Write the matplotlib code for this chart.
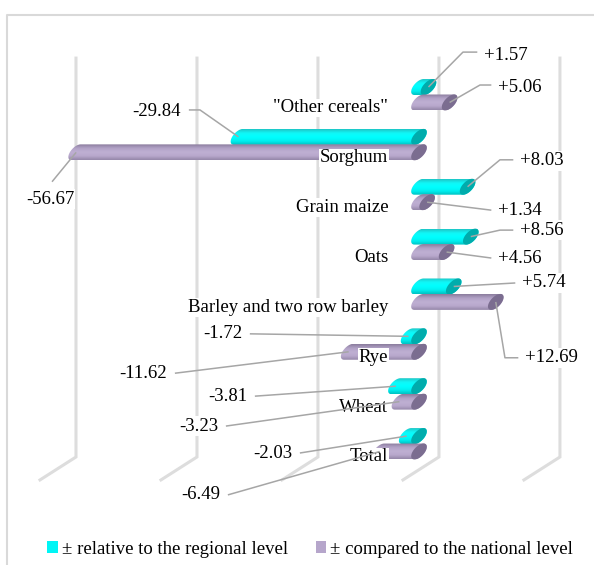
import numpy as np
import matplotlib.pyplot as plt
from matplotlib.colors import LinearSegmentedColormap
from matplotlib.lines import Line2D
from matplotlib.patches import Patch, Polygon

plt.rcParams["font.family"] = ["Liberation Serif", "DejaVu Serif"]

CATEGORIES = ['"Other cereals"', "Sorghum", "Grain maize", "Oats",
              "Barley and two row barley", "Rye", "Wheat", "Total"]
REGIONAL = [1.57, -29.84, 8.03, 8.56, 5.74, -1.72, -3.81, -2.03]
NATIONAL = [5.06, -56.67, 1.34, 4.56, 12.69, -11.62, -3.23, -6.49]
GRID_TICKS = [-60, -40, -20, 0, 20]
SERIES_NAMES = ["\u00b1 relative to the regional level",
                "\u00b1 compared to the national level"]

# label placement: (text x, text y, ha, elbow or None)
REG_LABEL_POS = [
    (10.74, -0.79, "left", (7.27, -0.85)),
    (-39.34, 0.35, "right", (-36.2, 0.31)),
    (16.69, 1.33, "left", (13.39, 1.31)),
    (16.69, 2.72, "left", (13.39, 2.72)),
    (17.02, 3.78, "left", None),
    (-29.26, 4.80, "right", None),
    (-28.43, 6.05, "right", None),
    (-20.99, 7.19, "right", None),
]
NAT_LABEL_POS = [
    (13.06, -0.15, "left", (10.08, -0.19)),
    (-60.99, 2.10, "center", (-60.66, 1.75)),
    (13.06, 2.32, "left", None),
    (13.06, 3.28, "left", None),
    (17.52, 5.28, "left", (14.21, 5.28)),
    (-41.65, 5.59, "right", None),
    (-33.22, 6.65, "right", None),
    (-32.89, 8.03, "right", None),
]

CYAN = "#00f5f5"
LILAC = "#b6a6cb"
cyan_cmap = LinearSegmentedColormap.from_list(
    "cyl_cyan", ["#1ec4c4", "#10f8f8", "#00ffff", "#00f0f0", "#00c0c0"])
lilac_cmap = LinearSegmentedColormap.from_list(
    "cyl_lilac", ["#8a7c9c", "#b1a1c6", "#bfb0d3", "#b8a8cc", "#9486a8"])

FS = 13.5
RX, SX, R = 1.05, 0.75, 0.16    # cap half-width, cap slant, tube radius
DEPTH_X = 3.3                   # back wall shift (value units)
REG_OFF, NAT_OFF = -0.15, 0.16


def cylinder(ax, v, yc, cmap, cap_color, z):
    x0, x1 = min(0.0, v), max(0.0, v)
    t_r = np.linspace(-np.pi / 2, np.pi / 2, 40)
    t_l = np.linspace(np.pi / 2, 3 * np.pi / 2, 40)
    xs = np.concatenate([x1 + RX * np.cos(t_r) - SX * np.sin(t_r),
                         x0 + RX * np.cos(t_l) - SX * np.sin(t_l)])
    ys = np.concatenate([yc + R * np.sin(t_r), yc + R * np.sin(t_l)])
    body = Polygon(np.column_stack([xs, ys]), closed=True, fc="none",
                   ec="none", zorder=z)
    ax.add_patch(body)
    grad = np.linspace(0, 1, 64).reshape(-1, 1)
    im = ax.imshow(grad, cmap=cmap, aspect="auto", origin="upper",
                   interpolation="bicubic", zorder=z,
                   extent=(x0 - RX - SX, x1 + RX + SX, yc + R, yc - R))
    im.set_clip_path(body)
    t = np.linspace(0, 2 * np.pi, 60)
    cap = Polygon(np.column_stack([x1 + RX * np.cos(t) - SX * np.sin(t),
                                   yc + R * np.sin(t)]),
                  closed=True, fc=cap_color, ec="none", zorder=z + 0.1)
    ax.add_patch(cap)


def value_label(ax, v, yc, pos, z):
    tx, ty, ha, elbow = pos
    px, py = [v], [yc]
    if elbow is not None:
        px.append(elbow[0])
        py.append(elbow[1])
        line_y = elbow[1]
    else:
        line_y = ty
    if ha == "left":
        px.append(tx - 1.1)
        py.append(line_y)
    elif ha == "right":
        px.append(tx + 1.3)
        py.append(line_y)
    ax.plot(px, py, color="#a6a6a6", lw=1.1, zorder=z, solid_capstyle="butt")
    ax.text(tx, ty, f"{v:+.2f}", ha=ha, va="center", fontsize=FS, zorder=z + 1,
            bbox=dict(fc="white", ec="none", pad=1.0))


fig = plt.figure(figsize=(5.94, 5.65), dpi=100)
ax = fig.add_axes([0, 0, 1, 1])
ax.axis("off")

# back-wall gridlines with their floor segments
for g in GRID_TICKS:
    gx = g + DEPTH_X
    ax.plot([gx, gx, gx - 5.95], [-0.73, 7.27, 7.73], color="#dddddd",
            lw=2.2, zorder=1, solid_joinstyle="miter")

idx = np.arange(len(CATEGORIES))
for i in idx:
    cylinder(ax, REGIONAL[i], i + REG_OFF, cyan_cmap, "#00acac", 2)
    cylinder(ax, NATIONAL[i], i + NAT_OFF, lilac_cmap, "#7b6d90", 3)
    ax.text(-5.1, i + 0.27, CATEGORIES[i], ha="right", va="center",
            fontsize=FS, zorder=4, bbox=dict(fc="white", ec="none", pad=0.5))

for i in idx:
    value_label(ax, REGIONAL[i], i + REG_OFF, REG_LABEL_POS[i], 5)
    value_label(ax, NATIONAL[i], i + NAT_OFF, NAT_LABEL_POS[i], 5)

ax.set_xlim(-69.26, 28.93)
ax.set_ylim(9.436, -1.895)

# chart area border (left and top edges)
fig.add_artist(Line2D([7 / 594, 7 / 594, 1.0], [0.0, 1 - 15 / 565, 1 - 15 / 565],
                      transform=fig.transFigure, color="#d9d9d9", lw=1.5))

handles = [Patch(fc=CYAN, ec="none"), Patch(fc=LILAC, ec="none")]
fig.legend(handles, SERIES_NAMES, loc="center", ncol=2, frameon=False,
           bbox_to_anchor=(0.522, 1 - 549 / 565), fontsize=FS,
           handlelength=0.55, handleheight=0.6, handletextpad=0.2,
           columnspacing=1.5)

fig.savefig("out.png", dpi=100)
